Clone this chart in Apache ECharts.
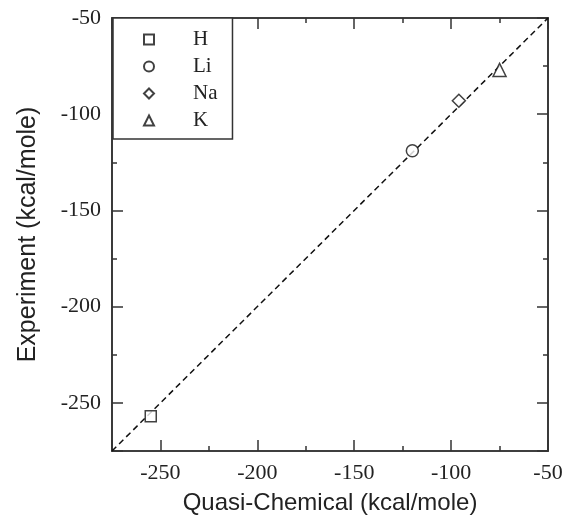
<!DOCTYPE html>
<html>
<head>
<meta charset="utf-8">
<script src="https://cdn.jsdelivr.net/npm/echarts@6/dist/echarts.min.js"></script>
<style>
  html, body { margin: 0; padding: 0; background: #fff; }
  #chart { width: 571px; height: 520px; }
</style>
</head>
<body>
<div id="chart"></div>
<script>
// data
var species = ['H', 'Li', 'Na', 'K'];
var quasiChemical = [-255, -120, -96, -75];
var experiment = [-257, -119, -93, -77];
var axisRange = [-275, -50];

var symbols = ['rect', 'circle', 'diamond', 'triangle'];
var symbolSizes = [11, 12, 13, 13];

var serif = 'Liberation Serif';
var sans = 'Liberation Sans';

// one axis = one set of ticks; major and minor ticks are overlaid axes
function makeAxis(pos, major, withLabel, name) {
    var ax = {
        type: 'value',
        position: pos,
        min: axisRange[0],
        max: axisRange[1],
        axisLine: { show: true, onZero: false, lineStyle: { color: '#333', width: 1.6 } },
        axisTick: { show: true, inside: true, length: major ? 11 : 5, lineStyle: { color: '#333', width: 1.5 } },
        splitLine: { show: false },
        axisLabel: { show: false }
    };
    if (major) {
        ax.splitNumber = 5;
    } else {
        ax.interval = 25;
    }
    if (withLabel) {
        ax.axisLabel = {
            show: true,
            fontFamily: serif,
            fontSize: 22,
            color: '#222',
            margin: 11,
            formatter: function (v) { return v === axisRange[0] ? '' : String(v); }
        };
        ax.name = name;
        ax.nameLocation = 'middle';
        ax.nameTextStyle = { fontFamily: sans, fontSize: 24, color: '#222' };
    }
    return ax;
}

var xAxes = [
    makeAxis('bottom', true, true, 'Quasi-Chemical (kcal/mole)'),
    makeAxis('bottom', false, false),
    makeAxis('top', true, false),
    makeAxis('top', false, false)
];
xAxes[0].nameGap = 40;

var yAxes = [
    makeAxis('left', true, true, 'Experiment (kcal/mole)'),
    makeAxis('left', false, false),
    makeAxis('right', true, false),
    makeAxis('right', false, false)
];
yAxes[0].nameGap = 71;
yAxes[0].nameRotate = 90;
yAxes[0].nameTextStyle.fontSize = 25;

var series = [{
    name: 'fit',
    type: 'line',
    data: [[axisRange[0], axisRange[0]], [axisRange[1], axisRange[1]]],
    symbol: 'none',
    silent: true,
    lineStyle: { color: '#111', width: 1.5, type: [6, 4] },
    z: 1
}];

species.forEach(function (s, i) {
    series.push({
        name: s,
        type: 'scatter',
        data: [[quasiChemical[i], experiment[i]]],
        symbol: symbols[i],
        symbolSize: symbolSizes[i],
        itemStyle: { color: '#fff', borderColor: '#111', borderWidth: 1.5 },
        z: 3
    });
});

var chart = echarts.init(document.getElementById('chart'), null, { renderer: 'canvas' });
chart.setOption({
    backgroundColor: '#fff',
    animation: false,
    grid: { left: 112, right: 23, top: 18, bottom: 69, containLabel: false },
    legend: {
        data: species,
        orient: 'vertical',
        left: 113,
        top: 18,
        padding: [11, 15, 8, 30],
        itemWidth: 10,
        itemHeight: 10,
        itemGap: 6,
        borderColor: '#333',
        borderWidth: 1.5,
        backgroundColor: '#fff',
        textStyle: { fontFamily: serif, fontSize: 21, color: '#222', padding: [0, 0, 0, 34] }
    },
    xAxis: xAxes,
    yAxis: yAxes,
    series: series
});
</script>
</body>
</html>
